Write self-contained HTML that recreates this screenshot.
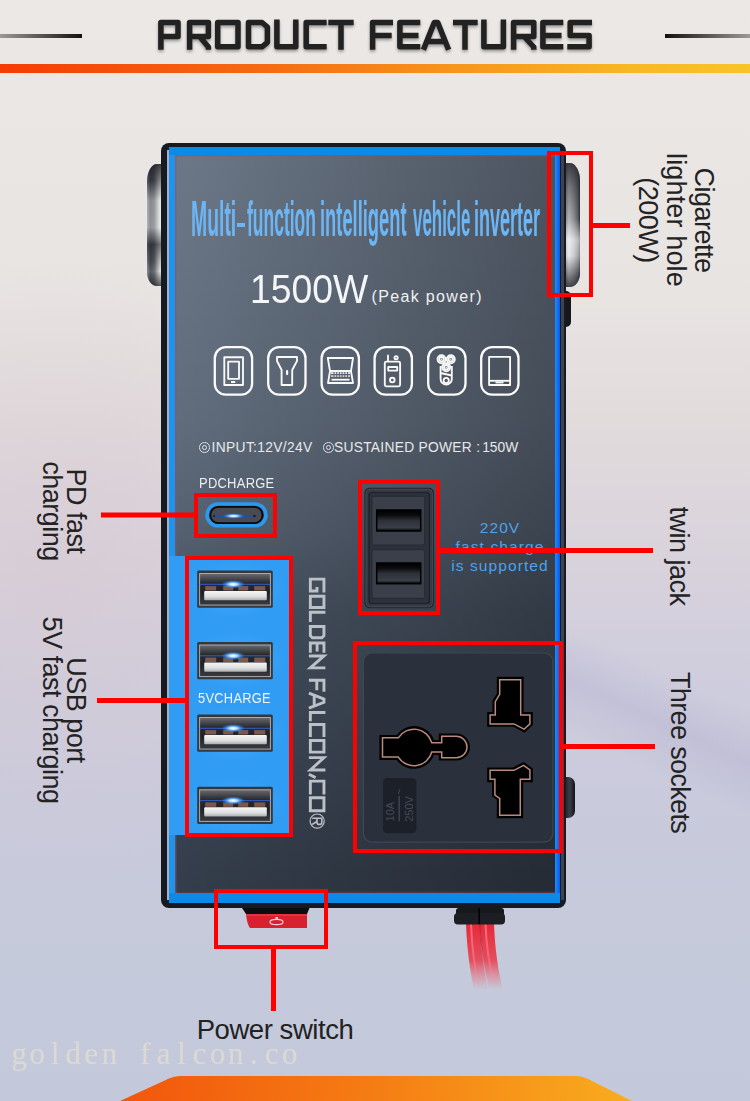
<!DOCTYPE html>
<html><head><meta charset="utf-8">
<style>
*{margin:0;padding:0;box-sizing:border-box}
html,body{width:750px;height:1101px;overflow:hidden}
body{position:relative;font-family:"Liberation Sans",sans-serif;
background:
 linear-gradient(180deg,#ebe8e6 0px,#e8e4e2 300px,#e2dbdc 420px,#d7d1dc 580px,#d0cedd 660px,#c9cadc 800px,#c4cadb 1000px,#c3c9da 1101px);
}
.a{position:absolute}
.lbl{position:absolute;color:#232323;font-size:27px;line-height:24.3px;letter-spacing:-0.5px;white-space:nowrap;transform-origin:0 0;transform:rotate(90deg);text-align:center}
.red{position:absolute;border:4px solid #f40000}
.rl{position:absolute;background:#f40000}
</style></head><body>
<!-- background tint -->
<div class="a" style="left:0;top:250px;width:750px;height:700px;background:radial-gradient(ellipse 260px 320px at 60px 330px,rgba(214,200,210,.55),rgba(214,200,210,0))"></div>

<div class="a" style="left:560px;top:540px;width:190px;height:360px;background:linear-gradient(205deg,rgba(150,145,195,0) 38%,rgba(150,145,195,.2) 50%,rgba(150,145,195,0) 62%)"></div>
<!-- title -->
<div class="a" style="left:0;top:34px;width:82px;height:3.5px;background:linear-gradient(90deg,#9a9a9a,#111)"></div>
<div class="a" style="left:665px;top:34px;width:85px;height:3.5px;background:linear-gradient(90deg,#111,#9a9a9a)"></div>
<svg class="a" style="left:0;top:0" width="750" height="60" viewBox="0 0 750 60">
<defs><filter id="sh" x="-5%" y="-20%" width="110%" height="160%"><feDropShadow dx="0" dy="2" stdDeviation="1.5" flood-color="#000" flood-opacity=".35"/></filter></defs>
<g fill="none" stroke="#212121" stroke-width="5.5" stroke-linejoin="round" stroke-linecap="butt" filter="url(#sh)">
<path d="M160.9,49.7 V22.5 H178 V36.6 H160.9"/>
<path d="M189.6,49.7 V22.5 H208.4 V36.6 H189.6 M200,37 L208.4,47 V49.7"/>
<path d="M217.7,22.5 H238 V46.8 H217.7 Z"/>
<path d="M248.5,22.5 H262 L267.4,27 V42.3 L262,46.8 H248.5 Z"/>
<path d="M276.9,19.6 V46.8 H295.8 V19.6"/>
<path d="M326.7,22.5 H306.2 V46.8 H326.7"/>
<path d="M328.3,22.5 H353.7 M341,22.5 V49.7"/>
<path d="M372.6,49.7 V22.5 H393 M372.6,35.6 H391.7"/>
<path d="M420.3,22.5 H399.9 V46.8 H420.3 M399.9,35.6 H418.5"/>
<path d="M423.4,49.7 L434.3,22.5 H437.7 L448.6,49.7 M427.5,41.5 H444.5"/>
<path d="M453,22.5 H477.7 M465,22.5 V49.7"/>
<path d="M483.9,19.6 V46.8 H503.4 V19.6"/>
<path d="M513.6,49.7 V22.5 H533.8 V36.6 H513.6 M524.5,37 L533.8,47 V49.7"/>
<path d="M563.3,22.5 H542.9 V46.8 H563.3 M542.9,35.6 H561.5"/>
<path d="M592,22.5 H570.2 V35.6 H589.1 V46.8 H567.3"/>
</g></svg>
<div class="a" style="left:0;top:64px;width:750px;height:8.5px;background:linear-gradient(90deg,#f53c05 0%,#f56a12 35%,#f7941c 60%,#f8b824 85%,#f8c428 100%)"></div>

<!-- DEVICE -->
<!-- knobs -->
<div class="a" style="left:147px;top:164px;width:18px;height:122px;border-radius:10px 0 0 10px/18px 0 0 14px;background:linear-gradient(90deg,#7c8494 0%,#44474e 18%,#5a5d63 40%,#c9cacc 68%,#e2e3e4 80%,#6a6d72 100%)"></div>
<div class="a" style="left:147px;top:164px;width:18px;height:122px;border-radius:10px 0 0 10px/18px 0 0 14px;background:linear-gradient(180deg,rgba(30,32,38,.85) 0%,rgba(30,32,38,.45) 14%,rgba(255,255,255,.35) 30%,rgba(255,255,255,.4) 52%,rgba(30,32,38,.55) 66%,rgba(30,32,38,.15) 80%,rgba(255,255,255,.1) 88%,rgba(30,32,38,.7) 100%)"></div>
<div class="a" style="left:562px;top:163px;width:18px;height:124px;border-radius:0 10px 10px 0/0 18px 14px 0;background:linear-gradient(270deg,#2e3036 0%,#6d7076 12%,#a9abaf 35%,#d7d8da 62%,#8e9095 85%,#4a4d53 100%)"></div>
<div class="a" style="left:562px;top:163px;width:18px;height:124px;border-radius:0 10px 10px 0/0 18px 14px 0;background:linear-gradient(180deg,rgba(30,32,38,.85) 0%,rgba(30,32,38,.5) 20%,rgba(30,32,38,.2) 45%,rgba(255,255,255,.55) 62%,rgba(255,255,255,.4) 75%,rgba(30,32,38,.5) 92%,rgba(30,32,38,.8) 100%)"></div>
<div class="a" style="left:562px;top:291px;width:9px;height:36px;border-radius:0 5px 5px 0;background:#15171c"></div>
<div class="a" style="left:562px;top:777px;width:13px;height:41px;border-radius:0 7px 7px 0;background:linear-gradient(90deg,#111318,#3a3e46 60%,#111318)"></div>
<!-- frame -->
<div class="a" style="left:161px;top:143px;width:405px;height:765px;border-radius:8px;background:#171a20"></div>
<div class="a" style="left:561px;top:152px;width:3px;height:748px;background:#3c4452"></div>
<div class="a" style="left:166.5px;top:150px;width:2px;height:750px;background:#a8b0c4"></div>
<div class="a" style="left:168.5px;top:147px;width:391.5px;height:756px;background:#0b8ae8"></div>
<div class="a" style="left:168.5px;top:155px;width:6.5px;height:738px;background:#1c94f0"></div>
<div class="a" style="left:555px;top:155px;width:5.2px;height:738px;background:linear-gradient(90deg,#1a8ef8,#0a58f0)"></div>
<!-- face -->
<div class="a" style="left:175px;top:155px;width:380px;height:738px;background:linear-gradient(90deg,rgba(0,0,0,0),rgba(0,0,0,.3)),linear-gradient(180deg,#6c7888 0%,#616d7d 36%,#556070 51%,#475261 62%,#353e4c 97%,#343d4b 100%);box-shadow:inset 1.5px 1.5px 0 rgba(150,80,100,.6),inset 0 -1.5px 0 rgba(120,50,60,.6)"></div>
<!-- usb blue panel -->
<div class="a" style="left:168.5px;top:556px;width:121.5px;height:279px;background:#309cf4"></div>


<svg class="a" style="left:0;top:0" width="750" height="1101" viewBox="0 0 750 1101">
<defs>
<linearGradient id="usbcav" x1="0" y1="0" x2="0" y2="1"><stop offset="0" stop-color="#6a6b70"/><stop offset=".3" stop-color="#2a2b30"/><stop offset=".6" stop-color="#202126"/><stop offset="1" stop-color="#3a3b40"/></linearGradient>
<linearGradient id="tongue" x1="0" y1="0" x2="0" y2="1"><stop offset="0" stop-color="#f6f6f6"/><stop offset=".6" stop-color="#dedfe0"/><stop offset="1" stop-color="#a9abae"/></linearGradient>
<radialGradient id="glow"><stop offset="0" stop-color="#ffffff"/><stop offset=".3" stop-color="#bfe4ff"/><stop offset=".65" stop-color="#3d9bff" stop-opacity=".7"/><stop offset="1" stop-color="#1f6fff" stop-opacity="0"/></radialGradient>
<linearGradient id="slot" x1="0" y1="0" x2="0" y2="1"><stop offset="0" stop-color="#000"/><stop offset=".25" stop-color="#0a0b0e"/><stop offset=".5" stop-color="#2c3038"/><stop offset=".85" stop-color="#3a3f48"/><stop offset="1" stop-color="#000"/></linearGradient>
<linearGradient id="wire" x1="0" y1="0" x2="0" y2="1"><stop offset="0" stop-color="#e8283a"/><stop offset=".55" stop-color="#e83848" stop-opacity=".85"/><stop offset="1" stop-color="#f06070" stop-opacity="0"/></linearGradient>
<linearGradient id="wireh" gradientUnits="userSpaceOnUse" x1="0" y1="924" x2="0" y2="990"><stop offset="0" stop-color="#ff8a96" stop-opacity=".7"/><stop offset=".6" stop-color="#ff8a96" stop-opacity=".4"/><stop offset="1" stop-color="#ff8a96" stop-opacity="0"/></linearGradient>
<linearGradient id="wired" gradientUnits="userSpaceOnUse" x1="0" y1="924" x2="0" y2="990"><stop offset="0" stop-color="#900818" stop-opacity=".6"/><stop offset="1" stop-color="#900818" stop-opacity="0"/></linearGradient>
<radialGradient id="halo"><stop offset="0" stop-color="#7cc6ff" stop-opacity=".55"/><stop offset=".6" stop-color="#5ab4ff" stop-opacity=".25"/><stop offset="1" stop-color="#5ab4ff" stop-opacity="0"/></radialGradient>
</defs>
<!-- icons -->
<g fill="none" stroke="#fafafa" stroke-width="2.3">
<rect x="214.8" y="347.2" width="37.3" height="47.5" rx="11"/>
<rect x="268.2" y="347.2" width="37.3" height="47.5" rx="11"/>
<rect x="321.6" y="347.2" width="37.3" height="47.5" rx="11"/>
<rect x="374.6" y="347.2" width="37.3" height="47.5" rx="11"/>
<rect x="428.2" y="347.2" width="37.3" height="47.5" rx="11"/>
<rect x="481.2" y="347.2" width="37.3" height="47.5" rx="11"/>
</g>
<g fill="none" stroke="#fafafa" stroke-width="1.85" stroke-linejoin="round">
<!-- phone -->
<rect x="224.3" y="357.2" width="18.7" height="27.8"/>
<rect x="228.2" y="361.6" width="10.8" height="17.2"/>
<!-- torch -->
<path d="M277,357 H297 V361 L292.2,370 V385 H281.6 V370 L277,361 Z"/>
<!-- laptop -->
<path d="M327.8,358 H353 L351,371.2 H330 Z"/>
<path d="M330,371.2 H351 L353,383 H328 Z"/>
<!-- walkie -->
<rect x="384.8" y="361.6" width="15.3" height="24.7" rx="1.5"/>
<rect x="388.2" y="367" width="9" height="3.6"/>
<circle cx="392.3" cy="380" r="2.3"/>
<path d="M388,361.6 V354.8"/>
<circle cx="396.1" cy="357.8" r="1.6"/>
<!-- shaver -->
<circle cx="441.5" cy="359.2" r="4"/><circle cx="441.5" cy="359.2" r="2.2"/>
<circle cx="450.8" cy="359.2" r="4"/><circle cx="450.8" cy="359.2" r="2.2"/>
<circle cx="446.2" cy="367.2" r="4"/><circle cx="446.2" cy="367.2" r="2.2"/>
<path d="M440.6,366 V379 A5.6,5.6 0 0 0 451.8,379 V366"/>
<path d="M440.6,373 L451.8,375.5"/>
<circle cx="446.2" cy="380.5" r="2.6"/>
<!-- tablet -->
<rect x="489.1" y="356.8" width="21" height="28.2"/>
<path d="M489.1,380.8 H510.1"/>
</g>
<g fill="#fafafa">
<rect x="231" y="381" width="4.2" height="2"/>
<rect x="286" y="370" width="2.2" height="5.2" rx="1.1"/>
<rect x="331" y="372.6" width="19" height="1.3"/>
<rect x="331" y="375.4" width="19" height="1.3"/>
<rect x="331.5" y="378.8" width="18" height="1.8"/>
<rect x="495.5" y="381.6" width="8" height="1.8"/>
</g>
<g fill="#5a6070"><rect x="333.5" y="372" width="1" height="5"/><rect x="336.2" y="372" width="1" height="5"/><rect x="338.9" y="372" width="1" height="5"/><rect x="341.6" y="372" width="1" height="5"/><rect x="344.3" y="372" width="1" height="5"/><rect x="347" y="372" width="1" height="5"/></g>
<g fill="#fafafa"><circle cx="441.5" cy="359.2" r=".8"/><circle cx="450.8" cy="359.2" r=".8"/><circle cx="446.2" cy="367.2" r=".8"/></g>

<!-- PD port -->
<rect x="207.1" y="504" width="58.8" height="21.8" rx="10.9" fill="#3b3f47" stroke="#2a9af0" stroke-width="3.6"/>
<rect x="210.3" y="506.8" width="52.2" height="16.4" rx="8.2" fill="#474b53" stroke="#08090b" stroke-width="1.8"/>
<rect x="213" y="515.2" width="43" height="1.6" rx=".8" fill="#10131a"/>
<rect x="215" y="515.4" width="38" height="1.2" fill="#2f6df0"/>
<ellipse cx="233.6" cy="516" rx="11" ry="2.8" fill="url(#glow)"/>

<!-- USB ports -->
<ellipse cx="236" cy="589.1" rx="50" ry="28" fill="url(#halo)"/><ellipse cx="236" cy="660.6" rx="50" ry="28" fill="url(#halo)"/><ellipse cx="236" cy="733.1" rx="50" ry="28" fill="url(#halo)"/><ellipse cx="236" cy="805.4" rx="50" ry="28" fill="url(#halo)"/>
<g transform="translate(197.2,570.5)">
<rect x="0" y="0" width="75.6" height="37.2" rx="1.5" fill="#34373c"/>
<rect x="2.4" y="3" width="70.8" height="31.6" fill="url(#usbcav)" stroke="#a8abb0" stroke-width="1"/>
<g fill="#7a5a4e"><rect x="8" y="15.6" width="11" height="4.4"/><rect x="26" y="15.6" width="10" height="4.4"/><rect x="41" y="15.6" width="10" height="4.4"/><rect x="57" y="15.6" width="11" height="4.4"/></g>
<rect x="2.4" y="13.3" width="70.8" height="1" fill="#2f6df0" opacity=".8"/>
<ellipse cx="36" cy="13.8" rx="12" ry="4.2" fill="url(#glow)"/>
<rect x="7" y="20.4" width="62.6" height="9.4" rx="1" fill="url(#tongue)"/>
</g><g transform="translate(197.2,642)">
<rect x="0" y="0" width="75.6" height="37.2" rx="1.5" fill="#34373c"/>
<rect x="2.4" y="3" width="70.8" height="31.6" fill="url(#usbcav)" stroke="#a8abb0" stroke-width="1"/>
<g fill="#7a5a4e"><rect x="8" y="15.6" width="11" height="4.4"/><rect x="26" y="15.6" width="10" height="4.4"/><rect x="41" y="15.6" width="10" height="4.4"/><rect x="57" y="15.6" width="11" height="4.4"/></g>
<rect x="2.4" y="13.3" width="70.8" height="1" fill="#2f6df0" opacity=".8"/>
<ellipse cx="36" cy="13.8" rx="12" ry="4.2" fill="url(#glow)"/>
<rect x="7" y="20.4" width="62.6" height="9.4" rx="1" fill="url(#tongue)"/>
</g><g transform="translate(197.2,714.5)">
<rect x="0" y="0" width="75.6" height="37.2" rx="1.5" fill="#34373c"/>
<rect x="2.4" y="3" width="70.8" height="31.6" fill="url(#usbcav)" stroke="#a8abb0" stroke-width="1"/>
<g fill="#7a5a4e"><rect x="8" y="15.6" width="11" height="4.4"/><rect x="26" y="15.6" width="10" height="4.4"/><rect x="41" y="15.6" width="10" height="4.4"/><rect x="57" y="15.6" width="11" height="4.4"/></g>
<rect x="2.4" y="13.3" width="70.8" height="1" fill="#2f6df0" opacity=".8"/>
<ellipse cx="36" cy="13.8" rx="12" ry="4.2" fill="url(#glow)"/>
<rect x="7" y="20.4" width="62.6" height="9.4" rx="1" fill="url(#tongue)"/>
</g><g transform="translate(197.2,786.8)">
<rect x="0" y="0" width="75.6" height="37.2" rx="1.5" fill="#34373c"/>
<rect x="2.4" y="3" width="70.8" height="31.6" fill="url(#usbcav)" stroke="#a8abb0" stroke-width="1"/>
<g fill="#7a5a4e"><rect x="8" y="15.6" width="11" height="4.4"/><rect x="26" y="15.6" width="10" height="4.4"/><rect x="41" y="15.6" width="10" height="4.4"/><rect x="57" y="15.6" width="11" height="4.4"/></g>
<rect x="2.4" y="13.3" width="70.8" height="1" fill="#2f6df0" opacity=".8"/>
<ellipse cx="36" cy="13.8" rx="12" ry="4.2" fill="url(#glow)"/>
<rect x="7" y="20.4" width="62.6" height="9.4" rx="1" fill="url(#tongue)"/>
</g>

<!-- twin jack -->
<rect x="364.4" y="487.7" width="69.6" height="120.6" rx="5" fill="#22262e"/>
<rect x="366" y="489.3" width="66.4" height="117.4" rx="4" fill="#343944" stroke="#454b57" stroke-width="1"/>
<rect x="369" y="492.5" width="60.4" height="111" rx="3" fill="#2c313b" stroke="#1c2027" stroke-width="1.2"/>
<rect x="372" y="496.3" width="52.7" height="48.7" rx="2" fill="#3a3f4a" stroke="#262a32" stroke-width="1"/>
<rect x="372" y="549.7" width="52.7" height="48.6" rx="2" fill="#3a3f4a" stroke="#262a32" stroke-width="1"/>
<rect x="376.7" y="510" width="44" height="21" fill="url(#slot)"/>
<rect x="376.7" y="563" width="44" height="20.7" fill="url(#slot)"/>
<rect x="376.7" y="510" width="44" height="21" fill="none" stroke="#000" stroke-width="1.5"/>
<rect x="376.7" y="563" width="44" height="20.7" fill="none" stroke="#000" stroke-width="1.5"/>

<!-- universal socket -->
<rect x="363.4" y="653" width="189.5" height="189.2" rx="9" fill="#2b313c" stroke="#3f4654" stroke-width="1.2"/>
<rect x="382.4" y="777.4" width="34.5" height="56.4" rx="5" fill="#1c2029" stroke="#2f3541" stroke-width="0.8"/>
<g fill="#000" stroke="#000" stroke-width="3.2" stroke-linejoin="miter">
<path d="M381,736.5 H397.5 A19.8,19.8 0 0 1 432.9,741.5 H440.4 V735 H456.3 A12,12 0 0 1 456.3,759 H440.4 V753.3 H432.9 A19.8,19.8 0 0 1 397.5,758.4 H381 Z"/>
<path d="M498.4,678.4 H522 V713.6 H531.2 V724.4 L524.4,730.8 L513.6,725.2 H488.8 V713.6 H494 V701.2 L498.4,694 Z"/>
<path d="M488.8,769 H513.6 L523.6,763.8 L531.2,769.4 V780.6 H521.6 V816.6 H498.4 V799 L493.6,795.4 V780.6 H488.8 Z"/>
</g>
<g fill="none" stroke="#b98a7e" stroke-width="1.5" stroke-linejoin="miter">
<path d="M382.5,737.8 H398.3 A18.5,18.5 0 0 1 431.8,742.8 H441.7 V736.3 H456.3 A10.7,10.7 0 0 1 456.3,757.7 H441.7 V752 H431.8 A18.5,18.5 0 0 1 398.3,757.1 H382.5 Z"/>
<path d="M499.7,679.7 H520.7 V714.9 H529.9 V723.8 L524.1,729.2 L513.9,723.9 H490.1 V714.9 H495.3 V701.6 L499.7,694.4 Z"/>
<path d="M490.1,770.3 H513.9 L523.6,765.4 L529.9,770 V779.3 H520.3 V815.3 H499.7 V798.5 L494.9,795 V779.3 H490.1 Z"/>
</g>
<g fill="#434b58" font-family="Liberation Sans" font-size="11px">
<text transform="translate(393.8,821.4) rotate(-90)">10A</text>
<text transform="translate(413.2,821.8) rotate(-90)">250V</text>
</g>
<rect x="398.5" y="796" width="1.3" height="25.4" fill="#434b58"/>
<path d="M399.2,794 l-0.8,-1.6 l1.6,-1.6 l-0.8,-1.6" fill="none" stroke="#434b58" stroke-width="1"/>

<!-- switch and cable -->
<path d="M242,908 H309.5 L307,914 H246 Z" fill="#0c0d10"/>
<path d="M246,914 H307 V928 H250 Q247,924 246,914 Z" fill="#d8202e"/>
<path d="M246,914 H307 V916 H246 Z" fill="#f0404c" opacity=".6"/>
<ellipse cx="276.5" cy="922" rx="6.5" ry="2.6" fill="none" stroke="#f5d0d4" stroke-width="1.2"/>
<rect x="275.5" y="917" width="2.4" height="2" fill="#f5d0d4"/>
<path d="M466,924 C467,950 470,970 474,990 L488,990 C484,970 481,950 480,924 Z" fill="url(#wire)"/>
<path d="M480,924 C481,950 485,970 490,990 L503,990 C498,970 495,950 494,924 Z" fill="url(#wire)"/>
<path d="M471,924 C472,950 475,970 479,988" fill="none" stroke="url(#wireh)" stroke-width="2"/>
<path d="M485.5,924 C486.5,950 490,970 495,988" fill="none" stroke="url(#wireh)" stroke-width="2"/>
<path d="M480,924 C481,950 484.5,970 489,988" fill="none" stroke="url(#wired)" stroke-width="1"/>
<rect x="456" y="908" width="48" height="8" rx="3" fill="#16181c"/>
<rect x="454" y="913" width="51" height="11.5" rx="4" fill="#1c1e23"/>
<rect x="478.5" y="908" width="1.5" height="16" fill="#000"/>

</svg>


<!-- face text -->
<div style="position:absolute;top:193.6px;font-size:49.5px;line-height:49.5px;font-weight:bold;color:#6cb6f6;white-space:nowrap;transform-origin:0 0;left:191.05px;transform:scaleX(0.392)">Multi</div><div style="position:absolute;top:193.6px;font-size:49.5px;line-height:49.5px;font-weight:bold;color:#6cb6f6;white-space:nowrap;transform-origin:0 0;left:246.5px;transform:scaleX(0.353)">function</div><div style="position:absolute;top:193.6px;font-size:49.5px;line-height:49.5px;font-weight:bold;color:#6cb6f6;white-space:nowrap;transform-origin:0 0;left:320.1px;transform:scaleX(0.37)">intelligent</div><div style="position:absolute;top:193.6px;font-size:49.5px;line-height:49.5px;font-weight:bold;color:#6cb6f6;white-space:nowrap;transform-origin:0 0;left:412.5px;transform:scaleX(0.342)">vehicle</div><div style="position:absolute;top:193.6px;font-size:49.5px;line-height:49.5px;font-weight:bold;color:#6cb6f6;white-space:nowrap;transform-origin:0 0;left:473.8px;transform:scaleX(0.364)">inverter</div><div class="a" style="left:237.4px;top:223.4px;width:7.8px;height:3.6px;background:#6cb6f6"></div>
<div class="a" style="left:250px;top:268px;font-size:41.5px;line-height:41.5px;color:#f4f5f6;white-space:nowrap;transform-origin:0 0;transform:scaleX(0.9)">1500W</div>
<div class="a" style="left:371.5px;top:289.2px;font-size:16px;line-height:16px;color:#eef0f2;white-space:nowrap;letter-spacing:1.35px">(Peak power)</div>
<div class="a" style="left:199.4px;top:442.4px;width:10.6px;height:10.6px;border:1px solid #dde0e4;border-radius:50%"></div>
<div class="a" style="left:202.1px;top:445.1px;width:5.2px;height:5.2px;border:1px solid #dde0e4;border-radius:50%"></div>
<div class="a" style="left:323.1px;top:442.4px;width:10.6px;height:10.6px;border:1px solid #dde0e4;border-radius:50%"></div>
<div class="a" style="left:325.8px;top:445.1px;width:5.2px;height:5.2px;border:1px solid #dde0e4;border-radius:50%"></div>
<div class="a" style="left:211.6px;top:440.6px;font-size:13.8px;line-height:13.8px;color:#e6e8ea;white-space:nowrap;letter-spacing:0.33px">INPUT:12V/24V</div>
<div class="a" style="left:334px;top:440.6px;font-size:13.8px;line-height:13.8px;color:#e6e8ea;white-space:nowrap;letter-spacing:0.27px">SUSTAINED POWER</div>
<div class="a" style="left:476.2px;top:440.6px;font-size:13.8px;line-height:13.8px;color:#e6e8ea;white-space:nowrap">:</div>
<div class="a" style="left:482.2px;top:440.6px;font-size:13.8px;line-height:13.8px;color:#e6e8ea;white-space:nowrap">150W</div>
<div class="a" style="left:198.6px;top:475.9px;font-size:14.8px;line-height:14.8px;color:#eceef0;white-space:nowrap;letter-spacing:0.3px;transform-origin:0 0;transform:scaleX(0.875)">PDCHARGE</div>
<div class="a" style="left:198.4px;top:690.8px;font-size:14.8px;line-height:14.8px;color:#f0f4f8;white-space:nowrap;letter-spacing:0.3px;transform-origin:0 0;transform:scaleX(0.87)">5VCHARGE</div>
<svg class="a" style="left:0;top:0" width="750" height="1101" viewBox="0 0 750 1101"><g transform="translate(325.4,0) rotate(90)" fill="none" stroke="#bcc1c8" stroke-width="2.9" stroke-linejoin="miter">
<path d="M592.5,1.45 H579.1500000000001 V15.05 H591.05 V8.4 H587.0 M596.25,1.45 H607.55 V15.05 H596.25 Z M612.25,0 V15.05 H622 M626.45,1.45 H635.7 L637.75,3.5 V13 L635.7,15.05 H626.45 Z M652.8,1.45 H642.95 V15.05 H652.8 M642.95,8.25 H651.5999999999999 M655.95,16.5 V1.45 L667.8499999999999,15.05 V0 M680.25,16.5 V1.45 H691.8 M680.25,8.6 H690.3 M693.1999999999999,16.5 L699.1,1.45 H702.3000000000001 L708.2,16.5 M696.5,11.2 H704.9 M712.45,0 V15.05 H721.2 M737.1,1.45 H724.5500000000001 V15.05 H737.1 M740.45,1.45 H752.15 V15.05 H740.45 Z M757.6500000000001,16.5 V1.45 L770.05,15.05 V0 M794.4,1.45 H781.1500000000001 V15.05 H794.4 M797.75,1.45 H810.75 V15.05 H797.75 Z M777.6,9.8 L774.2,16.5"/>
<circle cx="821.1" cy="8.25" r="7.1" stroke-width="1.2"/>
<path d="M818.3,13.2 V3.6 H822.4 Q824.4,3.6 824.4,6.1 Q824.4,8.4 822.4,8.4 H818.3 M821.4,8.4 L824.5,13.2" stroke-width="1.6"/>
</g></svg>
<div class="a" style="left:440px;top:519px;width:120px;text-align:center;font-size:15.5px;line-height:18.75px;color:#4ea2ea;white-space:nowrap;letter-spacing:1.1px">220V<br>fast charge<br>is supported</div>

<!-- labels -->
<div class="lbl" style="left:717.7px;top:150.3px;width:140px;line-height:28px">Cigarette<br><span style="letter-spacing:0.15px">lighter hole</span><br>(200W)</div>
<div class="lbl" style="left:87.8px;top:451px;width:120px">PD fast<br>charging</div>
<div class="lbl" style="left:87.8px;top:609.5px;width:200px">USB port<br>5V fast charging</div>
<div class="lbl" style="left:693.2px;top:496px;width:120px;line-height:28px">twin jack</div>
<div class="lbl" style="left:693.8px;top:672px;width:160px;line-height:28px;letter-spacing:-0.65px">Three sockets</div>
<div class="a" style="left:175px;top:1016.7px;width:200px;text-align:center;font-size:27.5px;line-height:26.6px;color:#222;letter-spacing:-0.45px;white-space:nowrap">Power switch</div>
<div class="a" style="left:9.9px;top:1037.8px;font-family:'Liberation Serif',serif;font-size:31px;line-height:31px;color:rgba(224,220,210,.9);white-space:nowrap"><span style="display:inline-block;width:18.06px;text-align:center">g</span><span style="display:inline-block;width:18.06px;text-align:center">o</span><span style="display:inline-block;width:18.06px;text-align:center">l</span><span style="display:inline-block;width:18.06px;text-align:center">d</span><span style="display:inline-block;width:18.06px;text-align:center">e</span><span style="display:inline-block;width:18.06px;text-align:center">n</span><span style="display:inline-block;width:18.06px;text-align:center">&nbsp;</span><span style="display:inline-block;width:18.06px;text-align:center">f</span><span style="display:inline-block;width:18.06px;text-align:center">a</span><span style="display:inline-block;width:18.06px;text-align:center">l</span><span style="display:inline-block;width:18.06px;text-align:center">c</span><span style="display:inline-block;width:18.06px;text-align:center">o</span><span style="display:inline-block;width:18.06px;text-align:center">n</span><span style="display:inline-block;width:18.06px;text-align:center">.</span><span style="display:inline-block;width:18.06px;text-align:center">c</span><span style="display:inline-block;width:18.06px;text-align:center">o</span></div>
<svg class="a" style="left:0;top:1070px" width="750" height="31" viewBox="0 1070 750 31">
<defs><linearGradient id="og" x1="0" y1="0" x2="1" y2="0"><stop offset="0" stop-color="#f2560c"/><stop offset=".5" stop-color="#f57d14"/><stop offset="1" stop-color="#f9ac1e"/></linearGradient></defs>
<path d="M120,1101 L169,1078.5 Q174,1076 180,1076 H577 Q582,1076 587,1078.5 L632,1101 Z" fill="url(#og)"/>
</svg>
<svg class="a" style="left:0;top:0" width="750" height="1101" viewBox="0 0 750 1101">
<!-- red annotation boxes -->
<g fill="none" stroke="#ff0000" stroke-width="4">
<rect x="549" y="153" width="42" height="142"/>
<rect x="196" y="495" width="79" height="41"/>
<rect x="187" y="558" width="104" height="277"/>
<rect x="360" y="482" width="78" height="131"/>
<rect x="355" y="643" width="206" height="208"/>
<rect x="216" y="891" width="110" height="56"/>
</g>
<g fill="#ff0000">
<rect x="593" y="223" width="37" height="5"/>
<rect x="101" y="512.5" width="93" height="5"/>
<rect x="97" y="698" width="88" height="5"/>
<rect x="440" y="548" width="213" height="5"/>
<rect x="563" y="744" width="92" height="5"/>
<rect x="271" y="949" width="5" height="62"/>
</g>
</svg>

</body></html>
